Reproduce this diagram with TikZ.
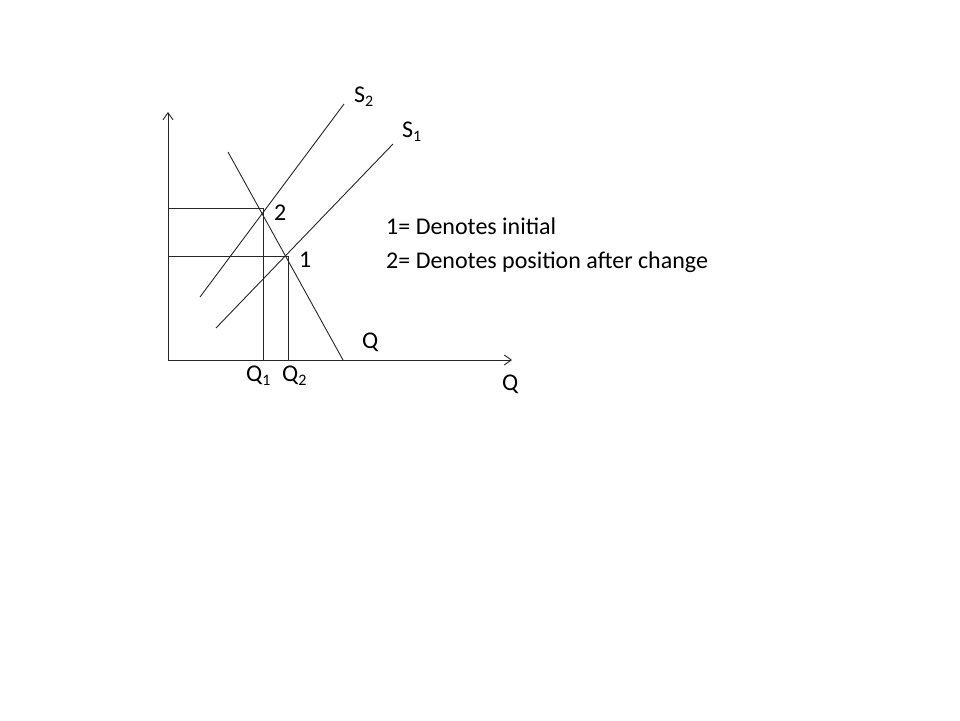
\documentclass[tikz,border=0pt]{standalone}
\usepackage{fontspec}
\setmainfont{Carlito}
\usetikzlibrary{arrows.meta}
\newcommand{\sbs}[1]{{\fontsize{16}{16}\selectfont\raisebox{-4.5pt}{#1}}}
\begin{document}
\begin{tikzpicture}[x=1pt,y=-1pt,
  ln/.style={line width=0.9pt,draw=black!85},
  ax/.style={ln,-{Straight Barb[length=7pt,width=10pt,line width=0.9pt]}},
  lbl/.style={anchor=base west,inner sep=0pt,font=\fontsize{24}{28}\selectfont}]
\useasboundingbox[fill=white] (0,0) rectangle (960,720);
% axes
\coordinate (O) at (168,360);
\coordinate (Ytop) at (168,112);
\coordinate (Xend) at (512,360);
\draw[ax] (O) -- (Ytop);
\draw[ax] (O) -- (Xend);
% demand
\coordinate (Da) at (228,152);
\coordinate (Db) at (343,360);
\draw[ln] (Da) -- (Db);
% supply curves
\coordinate (S2a) at (200,297);
\coordinate (S2b) at (344,104);
\draw[ln] (S2a) -- (S2b);
\coordinate (S1a) at (216,328);
\coordinate (S1b) at (393,144);
\draw[ln] (S1a) -- (S1b);
% equilibrium points
\coordinate (P2) at (263,208);
\coordinate (P1) at (288,256);
\coordinate (Y2) at (168,208);
\coordinate (Y1) at (168,256);
\coordinate (X2) at (263,360);
\coordinate (X1) at (288,360);
\draw[ln] (Y2) -- (P2) -- (X2);
\draw[ln] (Y1) -- (P1) -- (X1);
% labels
\node[lbl] (lS2) at (354,102) {S\sbs{2}};
\node[lbl] (lS1) at (402,137) {S\sbs{1}};
\node[lbl] (l2) at (274,220) {2};
\node[lbl] (l1) at (299,267) {1};
\node[lbl] (lQm) at (362,348) {Q};
\node[lbl] (lQ1) at (246,381) {Q\sbs{1}};
\node[lbl] (lQ2) at (282,381) {Q\sbs{2}};
\node[lbl] (lQx) at (502,390) {Q};
\node[lbl] (t1) at (386,234) {1= Denotes initial};
\node[lbl] (t2) at (386,268) {2= Denotes position after change};
\end{tikzpicture}
\end{document}
